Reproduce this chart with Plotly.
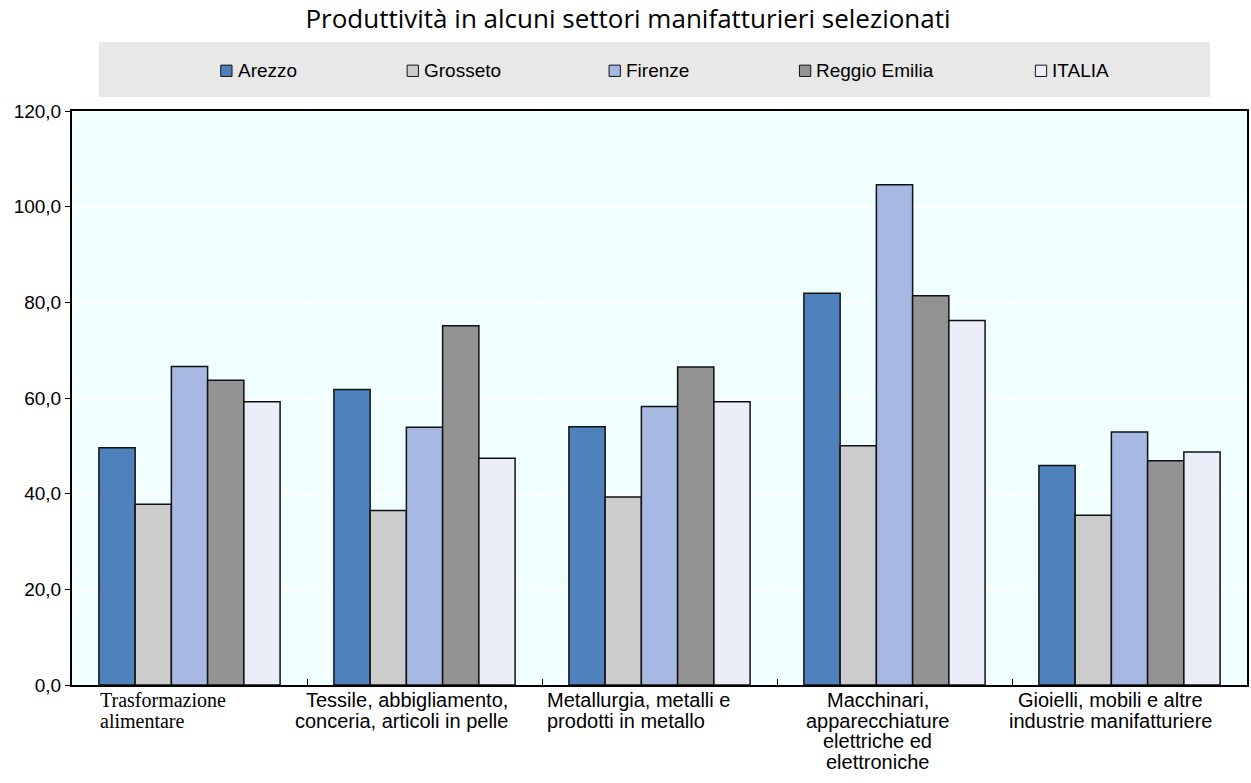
import plotly.graph_objects as go

# Sectors (line breaks mark how each axis label wraps)
categories = [
    "Trasformazione<br>alimentare",
    "Tessile, abbigliamento,<br>conceria, articoli in pelle",
    "Metallurgia, metalli e<br>prodotti in metallo",
    "Macchinari,<br>apparecchiature<br>elettriche ed<br>elettroniche",
    "Gioielli, mobili e altre<br>industrie manifatturiere",
]

series_names = ["Arezzo", "Grosseto", "Firenze", "Reggio Emilia", "ITALIA"]

arezzo = [49.6, 61.8, 54.0, 81.9, 45.9]
grosseto = [37.8, 36.5, 39.3, 50.0, 35.5]
firenze = [66.6, 53.9, 58.2, 104.6, 52.9]
reggio_emilia = [63.7, 75.1, 66.5, 81.4, 46.9]
italia = [59.2, 47.4, 59.2, 76.2, 48.7]

y_ticks = [0, 20, 40, 60, 80, 100, 120]

series_values = [arezzo, grosseto, firenze, reggio_emilia, italia]
colors = ["#4F81BD", "#CCCCCC", "#A7B8E2", "#939393", "#EBEEF8"]

# Canvas geometry (pixels)
W, H = 1251, 783
ML, MR, MT, MB = 72, 2, 111, 98
PW = W - ML - MR
PH = H - MT - MB


def px(xp):
    return (xp - ML) / PW


def py(yp):
    return (H - MB - yp) / PH


SANS = "Liberation Sans, Arial, sans-serif"
SERIF = "Liberation Serif, Times New Roman, serif"

fig = go.Figure()
for name, vals, col in zip(series_names, series_values, colors):
    fig.add_trace(go.Bar(
        name=name,
        x=categories,
        y=vals,
        marker=dict(color=col, line=dict(color="#111111", width=1.5)),
        showlegend=False,
    ))

shapes = []
annotations = []

# Legend panel
shapes.append(dict(type="rect", xref="paper", yref="paper",
                   x0=px(99), x1=px(1212), y0=py(97), y1=py(42),
                   fillcolor="#E8E8E8", line=dict(width=0), layer="below"))
legend_x = [221, 407.7, 610, 800.7, 1037]
legend_y = 70.8
sq = 11.3
for name, col, lx in zip(series_names, colors, legend_x):
    shapes.append(dict(type="rect", xref="paper", yref="paper",
                       x0=px(lx), x1=px(lx + sq),
                       y0=py(legend_y + sq / 2), y1=py(legend_y - sq / 2),
                       fillcolor=col, line=dict(color="#111111", width=1)))
    annotations.append(dict(xref="paper", yref="paper", x=px(lx + sq + 3.5), y=py(legend_y),
                            xanchor="left", yanchor="middle", showarrow=False,
                            text=name, font=dict(family=SANS, size=19, color="#000000")))

# Category labels under the axis, one annotation per line
label_style = [
    (98, "left", SERIF, 20),
    (511, "right", SANS, 20),
    (546, "left", SANS, 20),
    (879, "center", SANS, 20),
    (1112, "center", SANS, 20),
]
first_line_y = 700
line_step = 20.5
for cat, (ax, anchor, fam, fs) in zip(categories, label_style):
    for i, line in enumerate(cat.split("<br>")):
        annotations.append(dict(xref="paper", yref="paper", x=px(ax), y=py(first_line_y + i * line_step),
                                xanchor=anchor, yanchor="middle", showarrow=False,
                                text=line, font=dict(family=fam, size=fs, color="#000000")))

fig.update_layout(
    width=W, height=H, autosize=False,
    margin=dict(l=ML, r=MR, t=MT, b=MB),
    paper_bgcolor="white",
    plot_bgcolor="#F0FFFF",
    separators=",.",
    title=dict(text="Produttività in alcuni settori manifatturieri selezionati",
               x=628 / W, xanchor="center", y=1 - 19 / H, yanchor="middle",
               font=dict(family="Open Sans, sans-serif", size=26, color="#000000")),
    barmode="group",
    bargap=0.229,
    bargroupgap=0,
    shapes=shapes,
    annotations=annotations,
    xaxis=dict(
        type="category",
        showline=True, linecolor="#000000", linewidth=2, mirror=True,
        ticks="inside", tickson="boundaries", ticklen=6, tickcolor="#000000", tickwidth=1,
        showgrid=True, gridcolor="#FFFFFF", gridwidth=1,
        showticklabels=False,
    ),
    yaxis=dict(
        range=[0, 120], tickvals=y_ticks, tickformat=".1f",
        showline=True, linecolor="#000000", linewidth=2, mirror=True,
        ticks="outside", ticklen=5, tickcolor="#000000",
        showgrid=True, gridcolor="#FFFFFF", gridwidth=1.5,
        zeroline=False,
        tickfont=dict(family=SANS, size=19, color="#000000"),
    ),
)

fig.write_html("out.html")
